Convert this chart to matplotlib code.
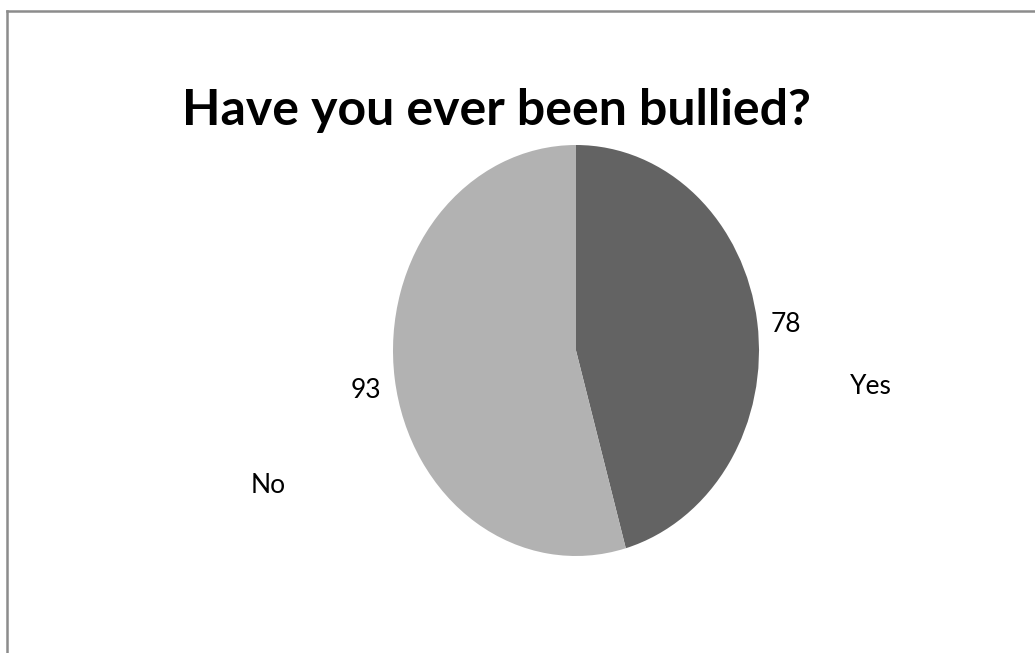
import matplotlib
matplotlib.use("Agg")
import matplotlib.pyplot as plt
from matplotlib.lines import Line2D

categories = ["Yes", "No"]
counts = [78, 93]
colors = ["#636363", "#b2b2b2"]
title = "Have you ever been bullied?"

W, H = 1035, 653
fig = plt.figure(figsize=(W / 100, H / 100), dpi=100)
fig.patch.set_facecolor("white")

# chart frame (only top and left edges visible in the crop)
frame_col = "#8c8c8c"
fig.add_artist(Line2D([7 / W, 1], [1 - 11 / H, 1 - 11 / H], color=frame_col, lw=1.8))
fig.add_artist(Line2D([7 / W, 7 / W], [0, 1 - 11 / H], color=frame_col, lw=1.8))

# pie box: the original is stretched vertically
cx, cy, rx, ry = 576, 350.5, 183, 205.5
ax = fig.add_axes([(cx - rx) / W, (H - cy - ry) / H, 2 * rx / W, 2 * ry / H])

total = sum(counts)
wedges, texts, autotexts = ax.pie(
    counts, colors=colors, startangle=90, counterclock=False,
    autopct=lambda p: f"{round(p * total / 100):d}", pctdistance=1.16,
    wedgeprops=dict(linewidth=0),
    textprops=dict(fontsize=19, family="Lato", color="black"))
for t in autotexts:
    x, y = t.get_position()
    t.set_position((x, y - 0.035))
ax.set_aspect("auto")
ax.set_xlim(-1, 1)
ax.set_ylim(-1, 1)

# category labels
cat_pos = {"Yes": (1.612, -0.173), "No": (-1.683, -0.659)}
for name in categories:
    ax.text(*cat_pos[name], name, ha="center", va="center",
            fontsize=19, family="Lato", clip_on=False)

fig.text(497 / W, 1 - 125 / H, title, ha="center", va="baseline",
         fontsize=36, fontweight="bold", family="Lato")

fig.savefig("out.png", dpi=100, facecolor="white")
